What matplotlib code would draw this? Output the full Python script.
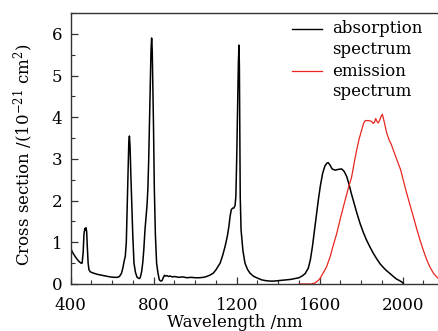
import matplotlib
matplotlib.use("Agg")
import matplotlib.pyplot as plt
from matplotlib.ticker import MultipleLocator

plt.rcParams['font.family'] = ['DejaVu Serif']
plt.rcParams['mathtext.fontset'] = 'dejavuserif'

# absorption spectrum (nm, 1e-21 cm^2)
abs_wl = [400, 410, 420, 430, 440, 450, 455, 460, 464, 468, 471, 474, 477, 480, 484, 488,
          495, 510, 530, 550, 570, 590, 610, 625, 635, 645, 652, 658, 663, 668, 672, 676,
          680, 683, 686, 690, 694, 699, 705, 712, 720, 730, 735, 742, 747, 752, 758, 763,
          768, 772, 776, 780, 784, 787, 790, 793, 796, 799, 803, 808, 814, 820, 827, 834,
          840, 846, 852, 858, 865, 872, 880, 890, 900, 920, 940, 960, 980, 1000, 1020, 1040,
          1055, 1070, 1087, 1100, 1110, 1120, 1132, 1144, 1155, 1163, 1168, 1174, 1180,
          1186, 1192, 1196, 1200, 1204, 1208, 1211, 1213, 1215, 1217, 1221, 1230, 1240,
          1252, 1264, 1280, 1296, 1320, 1340, 1360, 1380, 1400,
          1420, 1440, 1460, 1480, 1500, 1515, 1530, 1545, 1555, 1565, 1575, 1585, 1593,
          1603, 1614, 1625, 1635, 1641, 1650, 1660, 1674, 1690, 1706, 1718, 1730, 1742,
          1752, 1762, 1778, 1794, 1810, 1826, 1842, 1858, 1874, 1890, 1906, 1922, 1939,
          1955, 1970, 1985, 1998, 2003]
abs_val = [0.85, 0.75, 0.67, 0.60, 0.54, 0.50, 0.50, 0.75, 1.20, 1.33, 1.30, 1.35, 1.25, 0.90, 0.50, 0.34,
           0.29, 0.26, 0.23, 0.21, 0.19, 0.17, 0.16, 0.16, 0.18, 0.26, 0.40, 0.56, 0.66, 1.00, 1.80, 2.70,
           3.40, 3.55, 3.30, 2.60, 2.00, 1.20, 0.50, 0.28, 0.16, 0.13, 0.15, 0.30, 0.50, 0.80, 1.30, 1.60,
           1.90, 2.30, 3.00, 3.90, 4.90, 5.60, 5.90, 5.60, 4.70, 3.80, 2.30, 1.20, 0.50, 0.28, 0.10, 0.07,
           0.08, 0.15, 0.21, 0.19, 0.20, 0.18, 0.19, 0.17, 0.18, 0.16, 0.17, 0.15, 0.16, 0.15, 0.15, 0.16,
           0.18, 0.21, 0.26, 0.34, 0.42, 0.50, 0.68, 0.90, 1.15, 1.40, 1.62, 1.78, 1.82,
           1.82, 1.88, 2.10, 3.00, 4.20, 5.30, 5.73, 5.20, 3.50, 2.10, 1.30, 0.80, 0.50,
           0.35, 0.26, 0.19, 0.15, 0.10, 0.08, 0.07, 0.07, 0.08,
           0.09, 0.10, 0.11, 0.13, 0.15, 0.19, 0.25, 0.38, 0.58, 0.90, 1.30, 1.70, 2.00,
           2.35, 2.65, 2.83, 2.90, 2.91, 2.85, 2.76, 2.73, 2.75, 2.76, 2.70, 2.58, 2.38,
           2.18, 2.00, 1.72, 1.46, 1.24, 1.05, 0.89, 0.74, 0.61, 0.49, 0.40, 0.32, 0.25,
           0.18, 0.12, 0.08, 0.04, 0.01]

# emission spectrum
em_wl = [1500, 1560, 1580, 1600, 1615, 1633, 1650, 1665, 1682, 1700, 1722, 1738, 1754, 1766,
         1778, 1790, 1802, 1812, 1820, 1835, 1850, 1858, 1864, 1870, 1876, 1882, 1888, 1896,
         1902, 1908, 1915, 1923, 1935, 1945, 1955, 1972, 1990, 2005, 2019, 2035, 2051, 2067,
         2083, 2100, 2116, 2132, 2148, 2160, 2172, 2185, 2200]
em_val = [0.0, 0.0, 0.03, 0.12, 0.25, 0.41, 0.65, 0.92, 1.21, 1.58, 2.00, 2.30, 2.57, 2.90,
          3.21, 3.48, 3.69, 3.86, 3.92, 3.92, 3.90, 3.85, 3.88, 3.97, 3.90, 3.86, 3.92, 4.02,
          4.07, 3.95, 3.80, 3.62, 3.45, 3.35, 3.21, 2.98, 2.74, 2.45, 2.18, 1.90, 1.62, 1.33,
          1.06, 0.80, 0.58, 0.40, 0.26, 0.19, 0.13, 0.09, 0.06]

legend_lines = [['absorption', 'spectrum'], ['emission', 'spectrum']]

W, H = 438, 331
fig = plt.figure(figsize=(W / 100, H / 100), dpi=100)
left, right, top, bottom = 70.7, 444.2, 13, 284
ax = fig.add_axes([left / W, 1 - bottom / H, (right - left) / W, (bottom - top) / H])

BLACK, RED = 'black', '#e8261f'
ax.plot(abs_wl, abs_val, color=BLACK, lw=1.1)
ax.plot(em_wl, em_val, color=RED, lw=0.9)

ax.set_xlim(400, 2200)
ax.set_ylim(0, 6.5)
ax.xaxis.set_major_locator(MultipleLocator(400))
ax.xaxis.set_minor_locator(MultipleLocator(100))
ax.yaxis.set_major_locator(MultipleLocator(1))
ax.yaxis.set_minor_locator(MultipleLocator(0.5))
ax.tick_params(which='both', direction='in', colors='#333333', labelcolor='black', labelsize=12)
ax.tick_params(which='major', length=5, width=0.9)
ax.tick_params(which='minor', length=3, width=0.8)
ax.tick_params(axis='x', pad=9)
ax.tick_params(axis='y', pad=6)
for s in ax.spines.values():
    s.set_color('#333333')
    s.set_linewidth(1.0)

ax.set_xlabel('Wavelength /nm', fontsize=12)
ax.xaxis.set_label_coords((234.6 - left) / (right - left), -(313 - bottom) / (bottom - top) - 0.005)
ax.xaxis.label.set_va('top')
ax.set_ylabel(r'Cross section /(10$^{-21}$ cm$^{2}$)', fontsize=12, va='center')
ax.yaxis.set_label_coords((23 - left) / (right - left), (bottom - 155) / (bottom - top))

# legend (manual)
tr = ax.transAxes
def ax_x(px):
    return (px - left) / (right - left)
def ax_y(py):
    return (bottom - py) / (bottom - top)
handle_y = [29.3, 70.7]
baselines = [[33.3, 54.3], [75.5, 96.5]]
for col, hy, lines, bls in zip([BLACK, RED], handle_y, legend_lines, baselines):
    ax.plot([ax_x(291.7), ax_x(321.7)], [ax_y(hy)] * 2, color=col, lw=1.0 if col == BLACK else 0.9,
            transform=tr, clip_on=False)
    for txt, bl in zip(lines, bls):
        ax.text(ax_x(331.7), ax_y(bl), txt, transform=tr, fontsize=12, va='baseline', ha='left')

fig.savefig('out.png', dpi=100)
